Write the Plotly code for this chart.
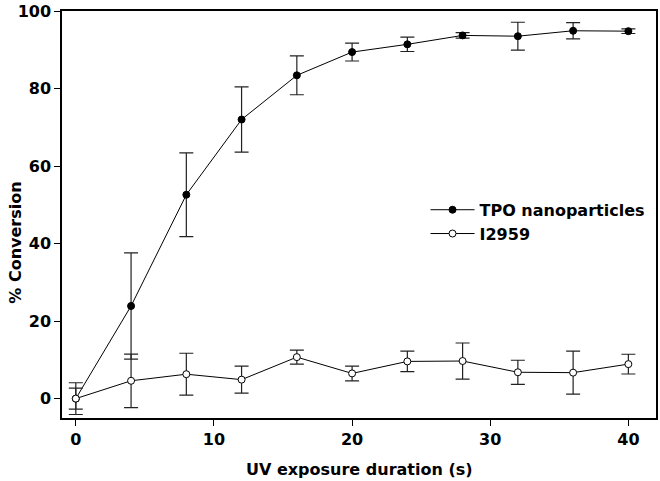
import plotly.graph_objects as go

time_s = [0, 4, 8, 12, 16, 20, 24, 28, 32, 36, 40]
tpo = [0, 23.9, 52.6, 72.0, 83.4, 89.4, 91.4, 93.7, 93.5, 94.9, 94.8]
tpo_err = [4.1, 13.7, 10.8, 8.4, 5.0, 2.3, 1.85, 0.7, 3.6, 2.1, 0.6]
i2959 = [0, 4.6, 6.3, 4.9, 10.7, 6.5, 9.6, 9.7, 6.8, 6.7, 8.9]
i2959_err = [2.7, 6.9, 5.4, 3.5, 1.8, 1.9, 2.65, 4.65, 3.1, 5.55, 2.55]

x_ticks = [0, 10, 20, 30, 40]
y_ticks = [0, 20, 40, 60, 80, 100]

FONT = "DejaVu Sans, Arial, sans-serif"

fig = go.Figure()
fig.add_trace(go.Scatter(
    x=time_s, y=tpo, name="TPO nanoparticles", mode="lines+markers",
    line=dict(color="black", width=1),
    marker=dict(symbol="circle", size=7, color="black", line=dict(color="black", width=1)),
    error_y=dict(type="data", array=tpo_err, visible=True, color="#222222", thickness=1.2, width=7),
))
fig.add_trace(go.Scatter(
    x=time_s, y=i2959, name="I2959", mode="lines+markers",
    line=dict(color="black", width=1),
    marker=dict(symbol="circle", size=7, color="white", line=dict(color="black", width=1)),
    error_y=dict(type="data", array=i2959_err, visible=True, color="#222222", thickness=1.2, width=7),
))

axis_common = dict(
    showgrid=False, zeroline=False, showline=True, linecolor="black", linewidth=1.5,
    mirror=True, ticks="outside", ticklen=6, tickwidth=1, tickcolor="black",
    ticklabeloverflow="allow",
    tickfont=dict(family=FONT, size=16, color="black", weight="bold"),
)
fig.update_xaxes(range=[-1, 42], tickvals=x_ticks, ticktext=[str(v) for v in x_ticks], **axis_common)
fig.update_yaxes(range=[-5, 100], tickvals=y_ticks, ticktext=[str(v) for v in y_ticks], **axis_common)

fig.add_annotation(text="<b>UV exposure duration (s)</b>", xref="paper", yref="paper",
                   x=0.5, y=-0.127, yanchor="middle", xanchor="center", showarrow=False,
                   font=dict(family=FONT, size=16, color="black"))
fig.add_annotation(text="<b>% Conversion</b>", xref="paper", yref="paper",
                   x=-0.078, xanchor="center", y=0.43, yanchor="middle", textangle=-90, showarrow=False,
                   font=dict(family=FONT, size=16, color="black"))

fig.update_layout(
    width=660, height=481,
    margin=dict(l=62, r=2, t=7, b=63),
    paper_bgcolor="white", plot_bgcolor="white",
    showlegend=True,
    legend=dict(x=0.612, y=0.482, xanchor="left", yanchor="middle",
                bgcolor="rgba(0,0,0,0)", borderwidth=0,
                font=dict(family=FONT, size=16, color="black", weight="bold"),
                tracegroupgap=0, itemwidth=44),
)

fig.write_html("out.html", config={"displayModeBar": False},
               post_script="document.body.style.margin='0';")
